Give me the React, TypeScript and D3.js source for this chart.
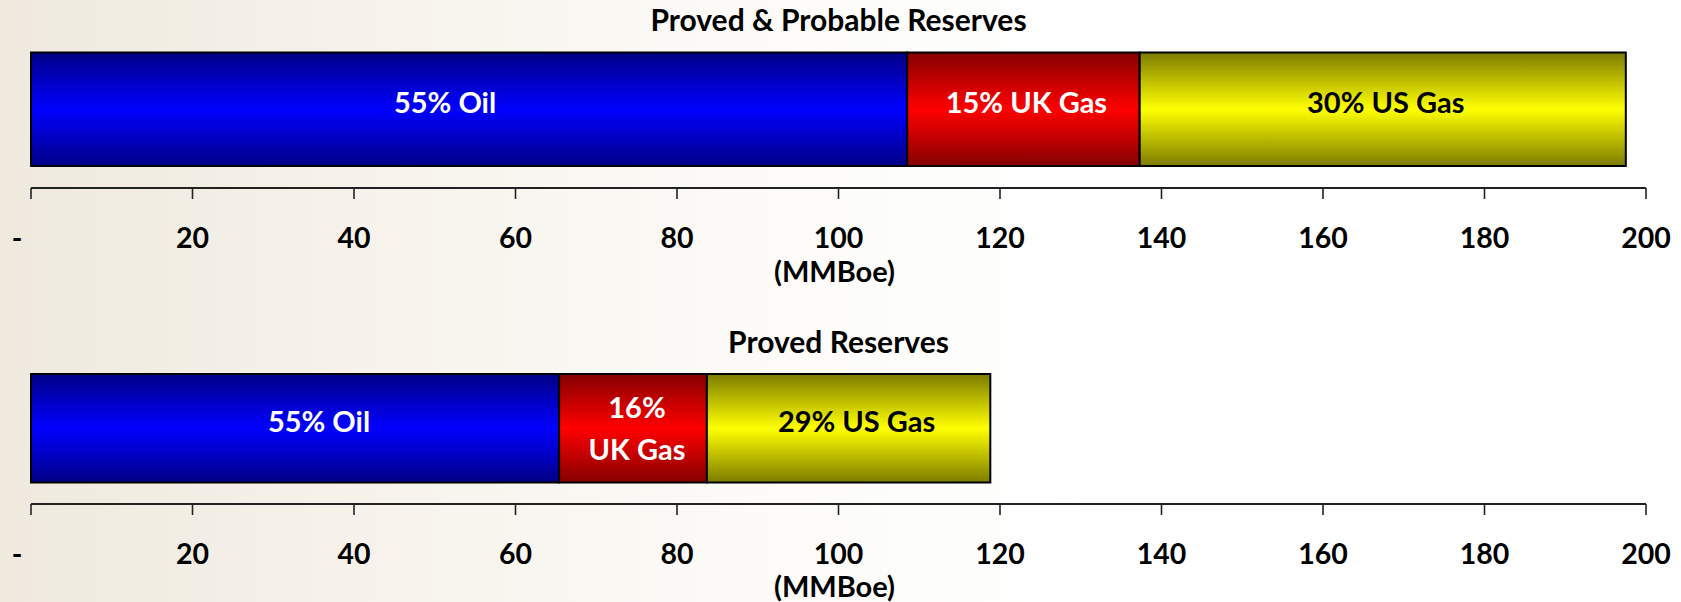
import React from "react";
import * as d3 from "d3";

// Reserves split by product, in MMBoe
const segmentNames = ["Oil", "UK Gas", "US Gas"];
const provedProbableValues = [108.5, 28.8, 60.2];
const provedValues = [65.4, 18.3, 35.1];
const provedProbableLabels = [["55% Oil"], ["15% UK Gas"], ["30% US Gas"]];
const provedLabels = [["55% Oil"], ["16%", "UK Gas"], ["29% US Gas"]];
const panelTitles = ["Proved & Probable Reserves", "Proved Reserves"];
const tickValues = [0, 20, 40, 60, 80, 100, 120, 140, 160, 180, 200];
const tickLabels = ["-", "20", "40", "60", "80", "100", "120", "140", "160", "180", "200"];
const axisUnit = "(MMBoe)";

const W = 1681;
const H = 602;
const FONT = "Lato, 'Open Sans', 'DejaVu Sans', sans-serif";

const x = d3.scaleLinear().domain([0, 200]).range([31, 1646]);

const gradients = [
  { id: "g-oil", dark: "#000086", mid: "#0000ff" },
  { id: "g-ukgas", dark: "#850000", mid: "#ff0000" },
  { id: "g-usgas", dark: "#7c7c00", mid: "#ffff00" },
];
const textColors = ["#ffffff", "#ffffff", "#000000"];
// horizontal nudges for the in-bar labels
const labelNudge = [
  [-24, 3, 3],
  [24, 4, 8],
];

const panels = [
  { title: panelTitles[0], values: provedProbableValues, labels: provedProbableLabels,
    titleY: 31, barTop: 52.5, barH: 113.5, axisY: 188, tickLabelY: 248, unitY: 282 },
  { title: panelTitles[1], values: provedValues, labels: provedLabels,
    titleY: 353, barTop: 374, barH: 108.5, axisY: 504, tickLabelY: 564, unitY: 597 },
];

function Panel({ p, pi }: { p: (typeof panels)[number]; pi: number }) {
  const ends = Array.from(d3.cumsum(p.values));
  const starts = [0, ...ends.slice(0, -1)];
  const cy = p.barTop + p.barH / 2;
  const cx = (x.range()[0] + x.range()[1]) / 2;
  return (
    <g>
      <text x={cx} y={p.titleY} textAnchor="middle" fontFamily={FONT} fontWeight={700}
        fontSize={30} fill="#000">{p.title}</text>
      {p.values.map((v, i) => (
        <rect key={segmentNames[i]} x={x(starts[i])} y={p.barTop}
          width={x(ends[i]) - x(starts[i])} height={p.barH}
          fill={`url(#${gradients[i].id})`} stroke="#000" strokeWidth={2} />
      ))}
      {p.labels.map((lines, i) => {
        const mx = (x(starts[i]) + x(ends[i])) / 2 + labelNudge[pi][i];
        const lh = 42;
        const n = lines.length;
        const first = cy + 3.5 - ((n - 1) * lh) / 2 + (n - 1) * 7.5;
        return (
          <text key={i} textAnchor="middle" fontFamily={FONT} fontWeight={700}
            fontSize={29} fill={textColors[i]}>
            {lines.map((l, j) => (
              <tspan key={j} x={mx} y={first + j * lh}>{l}</tspan>
            ))}
          </text>
        );
      })}
      <line x1={x(0)} x2={x(200)} y1={p.axisY} y2={p.axisY} stroke="#222" strokeWidth={2} />
      {tickValues.map((t, i) => (
        <g key={t}>
          <line x1={x(t)} x2={x(t)} y1={p.axisY} y2={p.axisY + 11} stroke="#222" strokeWidth={1.6} />
          <text x={x(t) + (t === 0 ? -14 : 0)} y={p.tickLabelY} textAnchor="middle"
            fontFamily={FONT} fontWeight={700} fontSize={28.5} fill="#000">{tickLabels[i]}</text>
        </g>
      ))}
      <text x={cx - 4} y={p.unitY} textAnchor="middle" fontFamily={FONT} fontWeight={700}
        fontSize={29} fill="#000">{axisUnit}</text>
    </g>
  );
}

export default function App() {
  return (
    <svg width={W} height={H} viewBox={`0 0 ${W} ${H}`}
      style={{ position: "absolute", left: 0, top: 0, display: "block" }}>
      <defs>
        <linearGradient id="bg" x1="0" y1="0" x2="1" y2="0">
          <stop offset="0" stopColor="#efe9de" />
          <stop offset="0.2" stopColor="#f6f2ea" />
          <stop offset="0.45" stopColor="#fcfbf8" />
          <stop offset="0.65" stopColor="#ffffff" />
        </linearGradient>
        {gradients.map((g) => (
          <linearGradient key={g.id} id={g.id} x1="0" y1="0" x2="0" y2="1">
            <stop offset="0" stopColor={g.dark} />
            <stop offset="0.5" stopColor={g.mid} />
            <stop offset="1" stopColor={g.dark} />
          </linearGradient>
        ))}
      </defs>
      <rect x={0} y={0} width={W} height={H} fill="url(#bg)" />
      {panels.map((p, i) => (
        <Panel key={p.title} p={p} pi={i} />
      ))}
    </svg>
  );
}
